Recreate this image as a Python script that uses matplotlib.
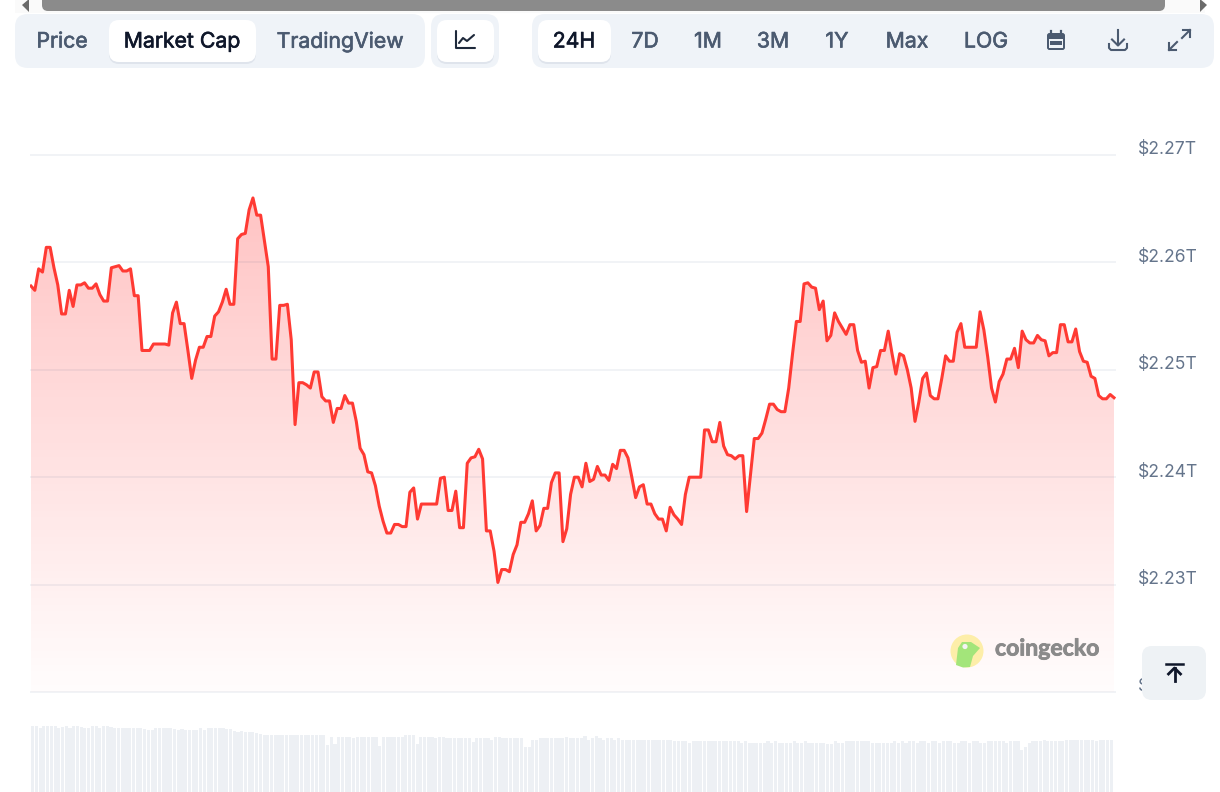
import numpy as np
import matplotlib
matplotlib.use("Agg")
import matplotlib.pyplot as plt
import matplotlib.patheffects as pe
from matplotlib.patches import FancyBboxPatch, Circle, Polygon, Rectangle
from matplotlib.transforms import ScaledTranslation

W, H = 1220, 792

# market cap in billions USD, one value per sample
mcap = [2257.8, 2257.4, 2259.4, 2259.1, 2261.4, 2261.4, 2259.5, 2257.9, 2255.2, 2255.2,
        2257.4, 2255.9, 2257.9, 2257.9, 2258.1, 2257.6, 2257.6, 2258.0, 2257.0, 2256.4,
        2256.4, 2259.5, 2259.6, 2259.7, 2259.2, 2259.2, 2259.4, 2256.9, 2256.9, 2251.8,
        2251.8, 2251.8, 2252.4, 2252.4, 2252.4, 2252.4, 2252.3, 2255.3, 2256.3, 2254.3,
        2254.3, 2251.8, 2249.2, 2250.9, 2252.1, 2252.1, 2253.1, 2253.1, 2255.0, 2255.4,
        2256.3, 2257.5, 2256.1, 2256.1, 2262.2, 2262.6, 2262.7, 2264.9, 2266.0, 2264.4,
        2264.4, 2262.0, 2259.6, 2251.0, 2251.0, 2256.0, 2256.0, 2256.1, 2252.8, 2244.9,
        2248.8, 2248.8, 2248.6, 2248.3, 2249.8, 2249.8, 2247.5, 2247.1, 2247.1, 2245.1,
        2246.4, 2246.4, 2247.6, 2246.9, 2246.9, 2245.2, 2242.7, 2242.1, 2240.5, 2240.4,
        2239.2, 2237.3, 2235.9, 2234.8, 2234.8, 2235.6, 2235.6, 2235.4, 2235.4, 2238.6,
        2239.0, 2236.1, 2237.5, 2237.5, 2237.5, 2237.5, 2237.5, 2239.9, 2240.0, 2236.9,
        2236.9, 2238.7, 2235.3, 2235.3, 2241.3, 2241.8, 2241.9, 2242.6, 2241.7, 2235.0,
        2235.0, 2233.1, 2230.2, 2231.4, 2231.4, 2231.2, 2232.8, 2233.7, 2235.8, 2235.8,
        2236.6, 2237.8, 2235.0, 2235.5, 2237.1, 2237.1, 2239.5, 2240.4, 2240.4, 2234.0,
        2235.2, 2238.4, 2240.0, 2240.0, 2239.1, 2241.3, 2239.6, 2239.8, 2241.0, 2240.2,
        2240.2, 2239.7, 2241.2, 2240.8, 2242.5, 2242.5, 2241.8, 2240.0, 2238.1, 2239.1,
        2239.3, 2237.5, 2237.5, 2236.6, 2236.1, 2236.1, 2235.0, 2237.2, 2236.5, 2236.1,
        2235.6, 2238.4, 2240.0, 2240.0, 2240.0, 2240.0, 2244.4, 2244.4, 2243.3, 2243.3,
        2245.1, 2242.9, 2242.1, 2242.0, 2241.7, 2242.0, 2242.0, 2236.8, 2240.2, 2243.6,
        2243.6, 2244.1, 2245.4, 2246.8, 2246.8, 2246.3, 2246.1, 2246.1, 2248.3, 2251.5,
        2254.5, 2254.5, 2258.0, 2258.1, 2257.7, 2257.6, 2255.6, 2256.4, 2252.7, 2253.2,
        2255.3, 2254.5, 2253.9, 2253.3, 2254.2, 2254.2, 2251.8, 2250.7, 2250.8, 2248.3,
        2250.2, 2250.3, 2251.8, 2251.8, 2253.6, 2251.5, 2249.6, 2251.5, 2251.3, 2250.0,
        2248.3, 2245.2, 2247.0, 2249.2, 2249.7, 2247.6, 2247.3, 2247.3, 2249.2, 2251.3,
        2250.8, 2250.8, 2253.5, 2254.3, 2252.1, 2252.1, 2252.1, 2252.1, 2255.4, 2253.7,
        2251.2, 2248.3, 2247.0, 2248.9, 2249.6, 2251.0, 2251.0, 2252.0, 2250.2, 2253.6,
        2252.8, 2252.5, 2252.5, 2253.2, 2252.8, 2252.7, 2251.3, 2251.6, 2251.6, 2254.2,
        2254.2, 2252.6, 2252.6, 2253.8, 2251.7, 2250.8, 2250.7, 2249.4, 2249.2, 2247.6,
        2247.3, 2247.3, 2247.7, 2247.4]

# volume in billions USD (only the tops are on screen)
volume = [72, 72, 71, 72, 72, 72, 72, 71, 71.5, 72, 71, 72, 72, 71.5, 71, 71, 72, 72, 71, 72,
          72, 71.5, 71, 71, 71, 71, 71, 71, 71, 71, 70.5, 70, 70, 71, 71, 71, 71, 71, 70.5, 70,
          70.5, 70, 70, 70, 70, 71, 70, 71, 71, 71, 71, 71, 70.5, 70.5, 69.5, 69, 69.5, 69, 69, 69,
          68.5, 68, 67.5, 67.5, 67.5, 67.5, 67.5, 67.5, 67.5, 67.5, 67.5, 67.5, 67.5, 67.5, 67.5, 67.5, 67.5, 67.5, 67.5, 62.5,
          66.5, 63, 66.5, 66.5, 66.5, 66.5, 66, 66.5, 66.5, 66.5, 66.5, 66.5, 66.5, 62, 66.5, 66.5, 66.5, 66.5,
          66.5, 66.5, 67.4, 67.4, 67.4, 63, 66.5, 66.5, 66.5, 66.5, 66, 66.5, 66.5, 66, 66, 66, 66, 66, 66, 66,
          64, 66, 66, 66, 66, 65, 66.5, 66.5, 66, 66, 66, 66, 66, 66, 61.5, 61.5, 65, 65, 66, 66,
          66, 66, 66, 66, 66, 66.5, 66, 66, 66, 66, 67, 65, 66, 67, 66, 65, 66, 66, 65, 66,
          65, 65, 65, 65, 65, 65, 65, 65, 65, 65, 65, 65, 65, 65, 64.5, 64.5, 64.5, 64.5, 63.5, 64.5,
          64.5, 64.5, 64.5, 64.5, 64.5, 64.5, 64.5, 64.5, 64.5, 64.5, 64.5, 64.5, 63.5, 64.5, 63.5, 63.5, 63.5, 63.5, 63.5, 64.5,
          63.5, 64.5, 63.5, 63.5, 63.5, 63.5, 64.5, 63.5, 63.5, 64.5, 63.5, 63.5, 63.5, 63.5, 63.5, 63, 63, 64.5, 63.5, 63.5,
          64.5, 64.5, 64.5, 64.5, 64.5, 64.5, 64.5, 63.5, 63.5, 63.5, 63.5, 63.5, 63.5, 64.5, 63.5, 64.5, 63.5, 64.5, 64.5, 63.5,
          64.5, 64.5, 63.5, 64.5, 64.5, 63.5, 64.5, 64.5, 64.5, 63.5, 63.5, 64.5, 64.5, 63.5, 64.5, 64.5, 63.5, 63.5, 64.5, 64.5,
          64.5, 64.5, 64.5, 63.5, 64.5, 64.5, 64.5, 60, 61.5, 63.5, 64.5, 64.5, 64.5, 65, 64.5, 64.5, 64.5, 64.5, 64.5, 65,
          65, 65, 65, 65, 65, 65, 65, 64.5, 65, 65, 65, 65]

ytick_vals = [2220, 2230, 2240, 2250, 2260, 2270]
ytick_labels = ["$2.22T", "$2.23T", "$2.24T", "$2.25T", "$2.26T", "$2.27T"]

left_tabs = ["Price", "Market Cap", "TradingView"]
left_tab_x = [62, 182, 340]
range_tabs = ["24H", "7D", "1M", "3M", "1Y", "Max", "LOG"]
range_tab_x = [574, 645, 708, 773, 837, 907, 986]

plt.rcParams["font.family"] = ["Inter", "DejaVu Sans"]
fig = plt.figure(figsize=(W / 100, H / 100), dpi=100, facecolor="white")


def px_axes(x0, x1, y0, y1, **kw):
    # axes from pixel box, y measured from the top
    return fig.add_axes([x0 / W, 1 - y1 / H, (x1 - x0) / W, (y1 - y0) / H], **kw)


# main chart
ax = px_axes(29.5, 1115.5, 155, 692)
n = len(mcap)
step = 1083 / (n - 1)
idx = np.arange(n)
xlim = (-1.5 / step, n - 1 + 1.5 / step)

grad_top, grad_bot = 198, 692
ymax = 2270 - (grad_top - 155) * 50 / 537
grad = np.zeros((256, 1, 4))
grad[..., 0] = 1.0
grad[..., 1] = 0.22
grad[..., 2] = 0.22
grad[:, 0, 3] = np.linspace(0.30, 0.012, 256)

im = ax.imshow(grad, extent=[0, n - 1, 2220, ymax], aspect="auto", zorder=1)
poly = ax.fill_between(idx, mcap, 2220, facecolor="none", edgecolor="none")
im.set_clip_path(poly.get_paths()[0], transform=ax.transData)

ax.hlines(ytick_vals, xlim[0], xlim[1], color="#1e3a6e", alpha=0.08, lw=1.1, zorder=2, clip_on=False)
ax.plot(idx, mcap, color="#ff3a33", lw=2.2, solid_joinstyle="round", zorder=3)

ax.set_xlim(*xlim)
ax.set_ylim(2220, 2270)
ax.set_xticks([])
ax.yaxis.tick_right()
ax.set_yticks(ytick_vals)
ax.set_yticklabels(ytick_labels, va="bottom", color="#64748b", fontsize=12.6)
ax.tick_params(axis="y", length=0, pad=16)
drop = ScaledTranslation(0, -2.5 / 72, fig.dpi_scale_trans)
for t in ax.get_yticklabels():
    t.set_transform(t.get_transform() + drop)
ax.patch.set_alpha(0)
for s in ax.spines.values():
    s.set_visible(False)

# volume strip, runs off the bottom of the picture
vax = px_axes(31, 1113, 715, 792)
vidx = np.arange(len(volume))
vax.bar(vidx, volume, width=0.84, color="#edf0f4", linewidth=0)
vax.set_xlim(-0.45, len(volume) - 0.55)
vax.set_ylim(39, 77.5)
vax.axis("off")

# toolbar and overlays, in screen pixels
ui = fig.add_axes([0, 0, 1, 1], zorder=10)
ui.set_xlim(0, W)
ui.set_ylim(H, 0)
ui.axis("off")
ui.patch.set_alpha(0)


def rbox(x0, y0, x1, y1, r, color, **kw):
    p = FancyBboxPatch((x0, y0), x1 - x0, y1 - y0, boxstyle=f"round,pad=0,rounding_size={r}",
                       facecolor=color, edgecolor="none", **kw)
    ui.add_patch(p)
    return p


# scrollbar
ui.add_patch(Rectangle((15, 0), 1190, 13, facecolor="#fafafa", edgecolor="none"))
rbox(42, -8, 1165, 11, 6, "#8b8b8b")
ui.add_patch(Polygon([[29, -1], [22, 5], [29, 12]], facecolor="#6a6a6a", edgecolor="none"))
ui.add_patch(Polygon([[1200, -1], [1207, 5], [1200, 12]], facecolor="#6a6a6a", edgecolor="none"))

bar_bg = "#eff3f8"
rbox(15, 14, 425, 68, 13, bar_bg)
rbox(431, 14, 499, 68, 13, bar_bg)
rbox(532, 14, 1214, 68, 13, bar_bg)
for x0, x1 in [(109, 256), (437, 494), (538, 611)]:
    rbox(x0, 21, x1, 64, 10, "#dfe4ec")
    rbox(x0, 20, x1, 62, 10, "white")

# the Inter build here has one weight, a thin stroke gives the medium look
medium = [pe.withStroke(linewidth=0.45, foreground="#0f172a")]
medium_grey = [pe.withStroke(linewidth=0.45, foreground="#4b5a70")]
for lab, x in zip(left_tabs, left_tab_x):
    active = lab == "Market Cap"
    ui.text(x, 41.5, lab, ha="center", va="center", fontsize=15.3,
            color="#0f172a" if active else "#4b5a70",
            path_effects=medium if active else medium_grey)
for lab, x in zip(range_tabs, range_tab_x):
    active = lab == "24H"
    ui.text(x, 41.5, lab, ha="center", va="center", fontsize=15.3,
            color="#0f172a" if active else "#4b5a70",
            path_effects=medium if active else medium_grey)

# line chart icon
ink = "#1e293b"
ui.plot([456, 456, 475], [31, 48, 48], color=ink, lw=1.5, solid_capstyle="round")
ui.plot([459, 463, 467, 474], [43, 38, 41, 35], color=ink, lw=1.5, solid_capstyle="round")

# calendar icon
slate = "#4b5a70"
rbox(1047, 33, 1065, 50, 2.5, slate)
ui.add_patch(Rectangle((1049, 38.5), 14, 9.5, facecolor=bar_bg, edgecolor="none"))
ui.add_patch(Rectangle((1050, 41), 12, 3.5, facecolor=slate, edgecolor="none"))
ui.plot([1051, 1051], [31, 34], color=slate, lw=1.6)
ui.plot([1061, 1061], [31, 34], color=slate, lw=1.6)

# download icon
ui.plot([1118, 1118], [30, 45], color=slate, lw=1.5)
ui.plot([1112, 1118, 1124], [39.5, 45.5, 39.5], color=slate, lw=1.5)
ui.plot([1109, 1109, 1111, 1125, 1127, 1127], [44, 48, 50, 50, 48, 44], color=slate, lw=1.5)

# expand icon
ui.plot([1169, 1177], [50, 42], color=slate, lw=1.5)
ui.plot([1169, 1169, 1176], [43, 50, 50], color=slate, lw=1.5)
ui.plot([1182, 1190], [38, 30], color=slate, lw=1.5)
ui.plot([1183, 1190, 1190], [30, 30, 37], color=slate, lw=1.5)

# coingecko mark
ui.add_patch(Circle((967, 651), 16.5, facecolor="#fdeea9", edgecolor="none"))
ui.add_patch(Polygon([[956, 665], [958, 648], [962, 642], [971, 642], [980, 648], [973, 656], [970, 667], [963, 667.5]],
                     facecolor="#a3e57a", edgecolor="none"))
ui.add_patch(Circle((965, 646.5), 2.6, facecolor="#f4f4f4", edgecolor="none"))
ui.text(995, 649, "coingecko", ha="left", va="center", fontsize=16.6, fontweight="bold",
        color="#8a8a8a", family="Lato", path_effects=[pe.withStroke(linewidth=0.6, foreground="#8a8a8a")])

# back to top button
rbox(1142, 646, 1206, 700, 10, "#eef2f5")
ui.plot([1166, 1183], [664, 664], color="#0f172a", lw=1.8)
ui.plot([1174.5, 1174.5], [681, 668], color="#0f172a", lw=2.0)
ui.plot([1168.5, 1174.5, 1180.5], [674, 668, 674], color="#0f172a", lw=2.0)

fig.savefig("out.png", dpi=100, facecolor="white")
